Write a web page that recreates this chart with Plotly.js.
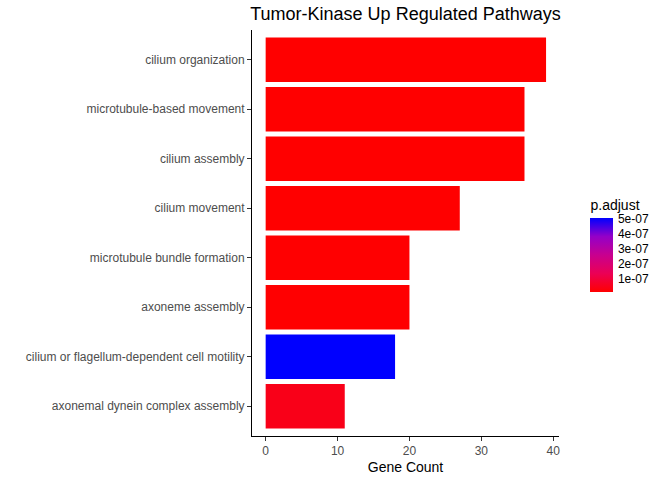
<!DOCTYPE html>
<html>
<head>
<meta charset="utf-8">
<script src="https://cdn.plot.ly/plotly-3.0.1.min.js"></script>
<style>body{margin:0;background:#fff}</style>
</head>
<body>
<div id="chart" style="width:672px;height:480px"></div>
<script>
// pathways, bottom to top
const pathways = [
  "axonemal dynein complex assembly",
  "cilium or flagellum-dependent cell motility",
  "axoneme assembly",
  "microtubule bundle formation",
  "cilium movement",
  "cilium assembly",
  "microtubule-based movement",
  "cilium organization"
];
const geneCount = [11, 18, 20, 20, 27, 36, 36, 39];
const pAdjust = [4.5e-8, 5.04e-7, 1.1e-8, 1.1e-8, 1.0e-8, 1.0e-8, 1.0e-8, 1.0e-8];

const trace = {
  type: "bar",
  orientation: "h",
  y: pathways,
  x: geneCount,
  width: 0.9,
  marker: {
    color: pAdjust,
    cmin: 1.0e-8,
    cmax: 5.04e-7,
    colorscale: [[0, "#FF0000"], [0.25, "#EB0055"], [0.5, "#C8008F"], [0.75, "#9400C8"], [1, "#0000FF"]],
    colorbar: {
      title: {text: "p.adjust", font: {size: 14, color: "#000"}, side: "top"},
      x: 1.07, xanchor: "left",
      y: 0.472, yanchor: "middle",
      len: 115, lenmode: "pixels",
      thickness: 23,
      outlinewidth: 0,
      ticks: "outside", ticklen: 3, tickcolor: "#fff",
      tickvals: [1e-7, 2e-7, 3e-7, 4e-7, 5e-7],
      ticktext: ["1e-07", "2e-07", "3e-07", "4e-07", "5e-07"],
      tickfont: {size: 12, color: "#000"}
    }
  },
  hoverinfo: "x+y"
};

const layout = {
  width: 672, height: 480,
  margin: {l: 252, r: 100, t: 30, b: 44},
  paper_bgcolor: "#fff", plot_bgcolor: "#fff",
  font: {family: "Liberation Sans, Arial, sans-serif"},
  title: {text: "Tumor-Kinase Up Regulated Pathways", font: {size: 18, color: "#000"},
          x: 0.5, xref: "paper", xanchor: "center", y: 0.985, yanchor: "top"},
  xaxis: {
    range: [-1.9, 40.8], showgrid: false, zeroline: false,
    showline: true, linecolor: "#000", linewidth: 1,
    ticks: "outside", ticklen: 4, tickcolor: "#333",
    tickvals: [0, 10, 20, 30, 40],
    tickfont: {size: 12, color: "#4d4d4d"},
    title: {text: "Gene Count", font: {size: 14, color: "#000"}, standoff: 4}
  },
  yaxis: {
    showgrid: false, zeroline: false,
    showline: true, linecolor: "#000", linewidth: 1,
    ticks: "outside", ticklen: 4, tickcolor: "#333",
    tickfont: {size: 12, color: "#4d4d4d"},
    range: [-0.6, 7.6]
  },
  bargap: 0.1
};

Plotly.newPlot("chart", [trace], layout, {displayModeBar: false});
</script>
</body>
</html>
